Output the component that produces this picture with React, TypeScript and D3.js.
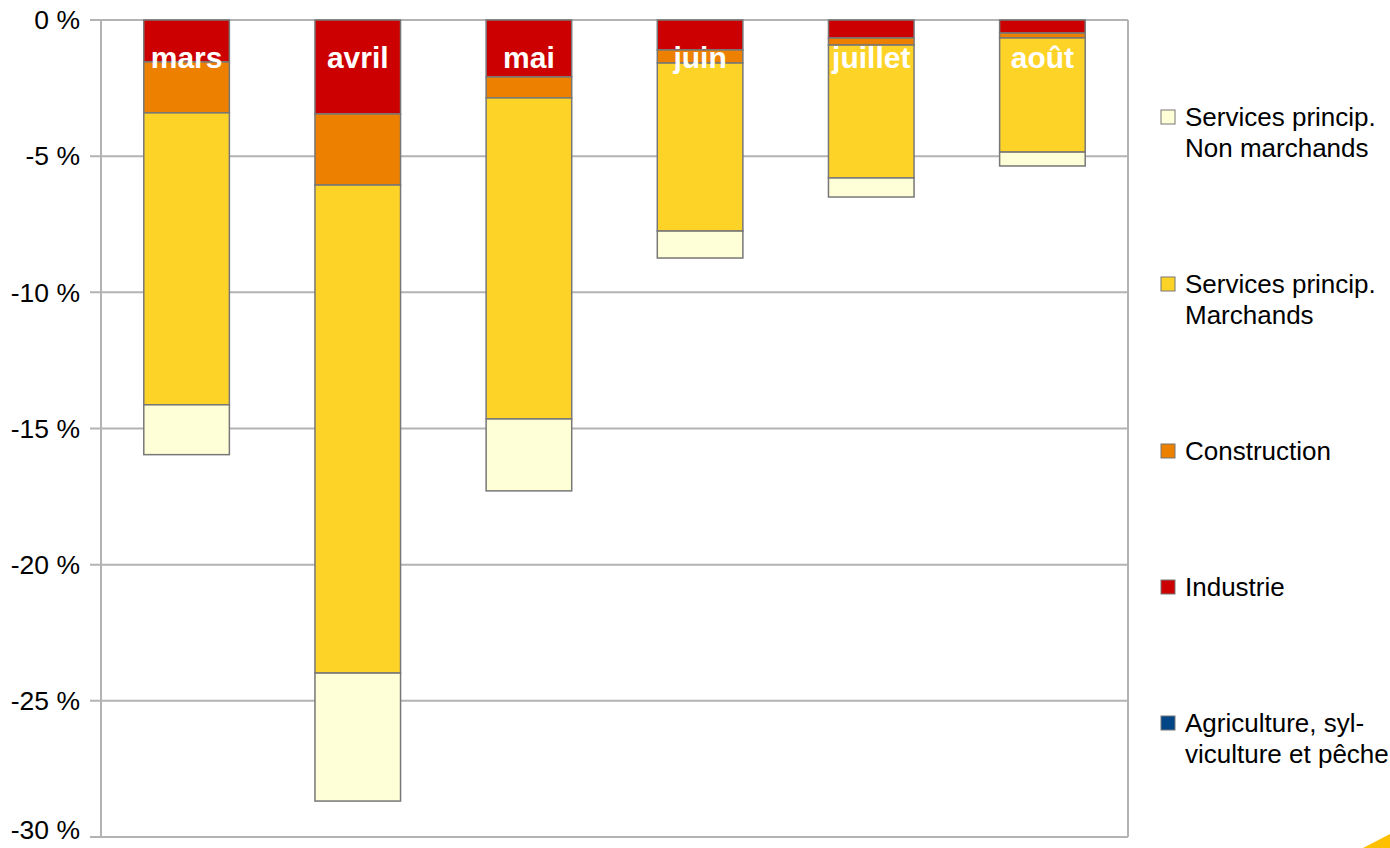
import React from 'react';
import * as d3 from 'd3';

const months = ['mars', 'avril', 'mai', 'juin', 'juillet', 'août'];
const agriculture = [0, 0, 0, 0, 0, 0];
const industrie = [-1.54, -3.45, -2.09, -1.1, -0.66, -0.48];
const construction = [-1.87, -2.61, -0.77, -0.48, -0.26, -0.18];
const marchands = [-10.72, -17.92, -11.79, -6.17, -4.88, -4.19];
const nonMarchands = [-1.83, -4.7, -2.64, -0.99, -0.7, -0.51];
const yTicks = [0, -5, -10, -15, -20, -25, -30];

const series = [
  { key: 'agri', label: ['Agriculture, syl-', 'viculture et pêche'], color: '#004586', values: agriculture },
  { key: 'ind', label: ['Industrie'], color: '#cc0000', values: industrie },
  { key: 'cons', label: ['Construction'], color: '#ee8000', values: construction },
  { key: 'march', label: ['Services princip.', 'Marchands'], color: '#fdd328', values: marchands },
  { key: 'nm', label: ['Services princip.', 'Non marchands'], color: '#ffffd7', values: nonMarchands },
];

const W = 1390;
const H = 848;
const font = "'Liberation Sans', Arial, sans-serif";

export default function App() {
  const x = d3.scaleBand<string>().domain(months).range([101, 1128]).paddingInner(0.5).paddingOuter(0.25);
  const y = d3.scaleLinear().domain([-30, 0]).range([837, 20]);

  const rows = months.map((m, i) => {
    const r: any = { month: m };
    series.forEach(s => (r[s.key] = s.values[i]));
    return r;
  });
  const stacked = d3.stack<any>().keys(series.map(s => s.key)).offset(d3.stackOffsetDiverging)(rows);

  // legend, reversed order, fixed gap between entries
  const legendItems = [...series].reverse();
  let ly = 102;
  const legend = legendItems.map(s => {
    const top = ly;
    ly += s.label.length * 31 + 105;
    return { ...s, top };
  });

  return (
    <svg width={W} height={H} style={{ position: 'absolute', left: 0, top: 0, background: '#fff' }}>
      {yTicks.map(t => (
        <g key={t}>
          <line x1={90} x2={1128} y1={y(t)} y2={y(t)} stroke="#b3b3b3" strokeWidth={2} />
          <text x={80} y={Math.min(y(t), 830)} dy="0.35em" textAnchor="end" fontFamily={font} fontSize={26.5} fill="#000">
            {`${t} %`}
          </text>
        </g>
      ))}
      <line x1={101} x2={101} y1={20} y2={837} stroke="#b3b3b3" strokeWidth={2} />
      <line x1={1128} x2={1128} y1={20} y2={837} stroke="#b3b3b3" strokeWidth={2} />

      {stacked.map((layer, li) => (
        <g key={layer.key}>
          {layer.map((d, i) =>
            d[0] === d[1] ? null : (
              <rect
                key={i}
                x={x(months[i])!}
                width={x.bandwidth()}
                y={y(Math.max(d[0], d[1]))}
                height={Math.abs(y(d[0]) - y(d[1]))}
                fill={series[li].color}
                stroke="#777"
                strokeWidth={1.5}
              />
            )
          )}
        </g>
      ))}

      {months.map(m => (
        <text key={m} x={x(m)! + x.bandwidth() / 2} y={68} textAnchor="middle" fontFamily={font}
          fontWeight="bold" fontSize={30} fill="#fff">
          {m}
        </text>
      ))}

      {legend.map(s => (
        <g key={s.key}>
          <rect x={1161} y={s.top + 8} width={14} height={14} fill={s.color} stroke="#777" strokeWidth={1} />
          {s.label.map((l, j) => (
            <text key={j} x={1185} y={s.top + 15 + j * 31} dy="0.35em" fontFamily={font} fontSize={26} fill="#000">
              {l}
            </text>
          ))}
        </g>
      ))}

      <polygon points="1363,848 1390,834 1390,848" fill="#ffc000" />
    </svg>
  );
}
